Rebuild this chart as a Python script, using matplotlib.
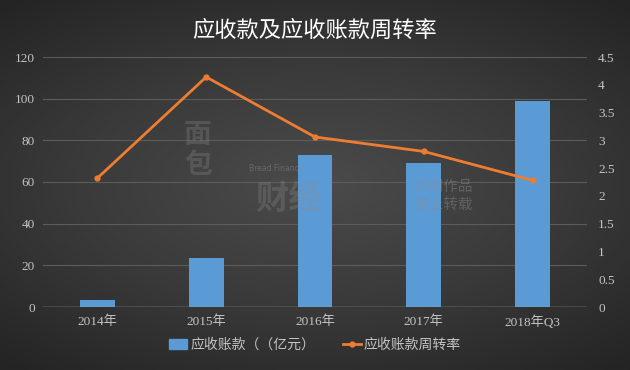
import numpy as np
import matplotlib
matplotlib.use("Agg")
import matplotlib.pyplot as plt
from matplotlib.colors import LinearSegmentedColormap
from matplotlib.lines import Line2D
from matplotlib.patches import Patch

categories = ["2014年", "2015年", "2016年", "2017年", "2018年Q3"]
receivables = [3.4, 23.5, 73.0, 69.0, 99.0]
turnover = [2.32, 4.14, 3.06, 2.80, 2.28]
left_ticks = [0, 20, 40, 60, 80, 100, 120]
right_ticks = [0, 0.5, 1, 1.5, 2, 2.5, 3, 3.5, 4, 4.5]
right_labels = ["0", "0.5", "1", "1.5", "2", "2.5", "3", "3.5", "4", "4.5"]

plt.rcParams["font.family"] = ["Liberation Serif", "Noto Sans CJK SC", "DejaVu Sans"]
text_grey = "#c4c4c4"

fig = plt.figure(figsize=(6.3, 3.7), dpi=100)

# radial dark background
bg = fig.add_axes([0, 0, 1, 1], zorder=-10)
yy, xx = np.mgrid[-1:1:200j, -1:1:340j]
r = np.clip(np.sqrt((xx * 0.85) ** 2 + (yy * 1.0) ** 2), 0, 1.3)
cmap = LinearSegmentedColormap.from_list("bg", ["#4b4b4b", "#3a3a3a", "#242424"])
bg.imshow(r, cmap=cmap, vmin=0, vmax=1.3, aspect="auto", extent=[0, 1, 0, 1])
bg.set_axis_off()

ax = fig.add_axes([43 / 630, 63 / 370, 544 / 630, 250 / 370])
ax.set_facecolor("none")
x = np.arange(len(categories))
ax.bar(x, receivables, width=0.32, color="#5b9bd5", zorder=3)
ax.set_xlim(-0.5, len(categories) - 0.5)
ax.set_ylim(0, 120)
ax.set_yticks(left_ticks)
ax.set_xticks(x)
ax.set_xticklabels(categories)
ax.grid(axis="y", color="#5c5c5c", linewidth=0.8, zorder=0)
ax.axhline(0, color="#a8a8a8", linewidth=1.0, zorder=4)
for s in ax.spines.values():
    s.set_visible(False)
ax.tick_params(length=0, colors=text_grey, labelsize=9.5, pad=6)

ax2 = ax.twinx()
ax2.plot(x, turnover, color="#ed7d31", linewidth=2, marker="o",
         markersize=3.5, zorder=5)
ax2.set_ylim(0, 4.5)
ax2.set_yticks(right_ticks)
ax2.set_yticklabels(right_labels)
for s in ax2.spines.values():
    s.set_visible(False)
ax2.tick_params(length=0, colors=text_grey, labelsize=9.5, pad=8)

fig.text(0.5, 0.918, "应收款及应收账款周转率", ha="center", va="center",
         color="white", fontsize=16, family=["Noto Sans CJK SC"])

# watermark
wm = "#8a8a8a"
fig.text(0.658, 0.47, "原创作品\n禁止转载", ha="left", va="center",
         color=wm, fontsize=10.5, alpha=0.45, linespacing=1.3,
         family=["Noto Sans CJK SC"])
fig.text(0.395, 0.545, "Bread Finance", ha="left", va="center",
         color=wm, fontsize=5.5, alpha=0.5, family=["DejaVu Sans"])
fig.text(0.292, 0.595, "面\n包", ha="left", va="center",
         color=wm, fontsize=20, alpha=0.3, linespacing=1.1,
         family=["Noto Sans CJK SC"], fontweight="bold")
fig.text(0.405, 0.46, "财经", ha="left", va="center",
         color=wm, fontsize=24, alpha=0.3,
         family=["Noto Sans CJK SC"], fontweight="bold")

handles = [Patch(color="#5b9bd5"),
           Line2D([], [], color="#ed7d31", linewidth=2, marker="o", markersize=3.5)]
fig.legend(handles, ["应收账款（（亿元）", "应收账款周转率"], loc="center",
           bbox_to_anchor=(0.5, 0.068), ncol=2, frameon=False,
           labelcolor=text_grey, handlelength=1.3,
           handletextpad=0.2, columnspacing=2.0,
           prop={"family": ["Noto Sans CJK SC"], "size": 10})

fig.savefig("out.png", dpi=100)
